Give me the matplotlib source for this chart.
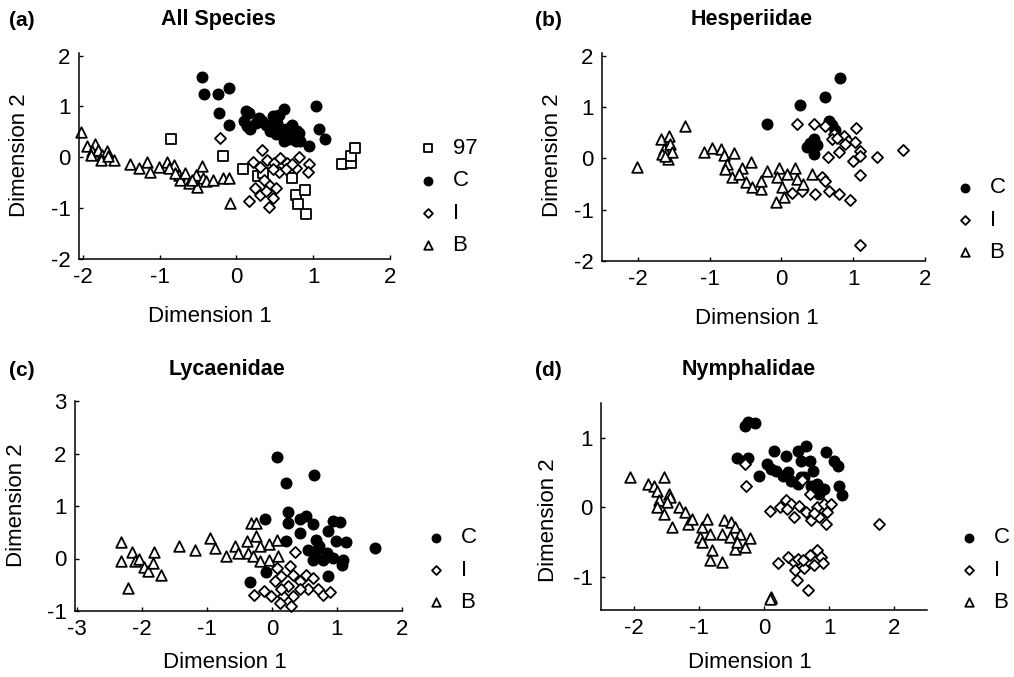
import matplotlib
matplotlib.use("Agg")
from matplotlib import pyplot as plt

plt.rcParams["font.family"] = ["Liberation Sans", "DejaVu Sans"]
plt.rcParams["font.size"] = 16
plt.rcParams["axes.unicode_minus"] = False

W, H = 1014, 677

# ---- (a) All Species ----
all_97_x = [-0.85, -0.17, 0.09, 0.28, 0.34, 0.72, 0.77, 0.89, 0.80, 0.91, 1.37, 1.49, 1.49, 1.55]
all_97_y = [0.36, 0.02, -0.24, -0.37, -0.31, -0.41, -0.75, -0.65, -0.91, -1.12, -0.13, -0.11, 0.03, 0.18]
all_c_x = [-0.45, -0.42, -0.24, -0.10, -0.23, -0.10, 0.12, 0.16, 0.10, 0.14, 0.18, 0.25, 0.29, 0.33,
           0.38, 0.47, 0.51, 0.55, 0.62, 0.49, 0.53, 0.55, 0.60, 0.64, 0.68, 0.73, 0.75, 0.79, 0.81,
           0.77, 0.68, 0.62, 0.51, 0.44, 0.83, 0.94, 1.04, 1.07, 1.16]
all_c_y = [1.57, 1.24, 1.25, 1.37, 0.88, 0.64, 0.91, 0.88, 0.71, 0.61, 0.55, 0.68, 0.78, 0.71,
           0.64, 0.81, 0.81, 0.84, 0.94, 0.64, 0.68, 0.58, 0.45, 0.55, 0.51, 0.64, 0.41, 0.51, 0.48,
           0.32, 0.35, 0.32, 0.45, 0.51, 0.32, 0.22, 1.01, 0.55, 0.35]
all_i_x = [-0.22, 0.33, 0.21, 0.31, 0.40, 0.49, 0.57, 0.66, 0.78, 0.81, 0.95, 0.93, 0.55, 0.42,
           0.51, 0.24, 0.31, 0.38, 0.47, 0.16, 0.43, 0.64, 0.73, 0.47, 0.36]
all_i_y = [0.37, 0.15, -0.09, -0.20, -0.05, -0.11, -0.01, -0.11, -0.21, 0.00, -0.13, -0.28, -0.28,
           -0.54, -0.61, -0.61, -0.74, -0.67, -0.80, -0.85, -0.98, -0.24, -0.14, -0.24, -0.44]
all_b_x = [-2.03, -1.95, -1.84, -1.88, -1.80, -1.90, -1.75, -1.69, -1.60, -1.77, -1.67, -1.38,
           -1.27, -1.16, -1.13, -1.01, -0.90, -0.81, -0.88, -0.75, -0.73, -0.67, -0.62, -0.53,
           -0.51, -0.45, -0.43, -0.39, -0.30, -0.17, -0.10, -0.09, -0.58, -0.80]
all_b_y = [0.50, 0.22, 0.26, 0.13, 0.15, 0.05, 0.05, 0.12, -0.06, -0.05, 0.02, -0.13,
           -0.21, -0.09, -0.28, -0.20, -0.09, -0.16, -0.21, -0.34, -0.44, -0.31, -0.51, -0.34,
           -0.59, -0.18, -0.41, -0.47, -0.44, -0.41, -0.41, -0.90, -0.44, -0.31]

# ---- (b) Hesperiidae ----
hes_c_x = [-0.20, 0.26, 0.60, 0.82, 0.66, 0.71, 0.75, 0.45, 0.36, 0.45, 0.50, 0.40]
hes_c_y = [0.67, 1.03, 1.20, 1.56, 0.73, 0.64, 0.55, 0.38, 0.21, 0.08, 0.25, 0.30]
hes_i_x = [0.22, 0.45, 0.60, 0.73, 0.70, 0.87, 0.93, 1.04, 1.03, 1.09, 1.10, 0.99, 1.33, 1.69,
           0.80, 0.65, 0.56, 0.61, 0.47, 0.66, 0.80, 0.95, 0.29, 0.15, 1.09, 1.09, 0.89, 0.77]
hes_i_y = [0.66, 0.66, 0.62, 0.47, 0.38, 0.44, 0.34, 0.59, 0.31, 0.15, 0.05, -0.05, 0.03, 0.17,
           0.12, 0.03, -0.36, -0.44, -0.69, -0.64, -0.69, -0.81, -0.64, -0.68, -0.33, -1.68, 0.28, 0.40]
hes_b_x = [-2.01, -1.68, -1.57, -1.64, -1.55, -1.66, -1.58, -1.52, -1.62, -1.34, -1.08, -0.97,
           -0.84, -0.80, -0.66, -0.76, -0.78, -0.69, -0.55, -0.59, -0.50, -0.43, -0.41, -0.29,
           -0.28, -0.20, -0.04, -0.06, 0.01, -0.08, 0.03, 0.08, 0.19, 0.22, 0.30, 0.42]
hes_b_y = [-0.16, 0.38, 0.44, 0.18, 0.28, 0.08, -0.01, 0.12, 0.05, 0.62, 0.12, 0.20,
           0.18, 0.07, 0.10, -0.11, -0.21, -0.37, -0.18, -0.31, -0.47, -0.08, -0.56, -0.60,
           -0.44, -0.24, -0.18, -0.37, -0.56, -0.86, -0.76, -0.31, -0.18, -0.40, -0.50, -0.31]

# ---- (c) Lycaenidae ----
lyc_c_x = [0.07, 0.22, 0.65, 0.25, -0.11, 0.25, 0.43, 0.53, 0.63, 0.43, 0.22, 0.68, 0.86, 0.94,
           1.04, 0.99, 1.14, 0.73, 0.55, 0.84, 0.78, 0.94, 1.07, 0.86, 0.63, 0.68, 1.58, -0.09,
           -0.34, 1.09]
lyc_c_y = [1.94, 1.43, 1.59, 0.89, 0.75, 0.68, 0.75, 0.81, 0.65, 0.49, 0.34, 0.36, 0.52, 0.71,
           0.69, 0.33, 0.31, 0.24, 0.17, 0.11, -0.02, 0.01, -0.13, -0.34, -0.02, 0.14, 0.20, -0.26,
           -0.45, -0.02]
lyc_i_x = [0.35, 0.07, 0.14, 0.27, 0.04, 0.25, 0.32, 0.43, 0.53, 0.63, 0.55, 0.43, 0.32, 0.17,
           0.12, 0.30, -0.01, -0.13, -0.27, 0.78, 0.89, 0.71, 0.14]
lyc_i_y = [0.13, -0.18, -0.34, -0.15, -0.43, -0.53, -0.31, -0.43, -0.31, -0.37, -0.59, -0.59,
           -0.72, -0.72, -0.85, -0.90, -0.72, -0.62, -0.69, -0.69, -0.64, -0.59, -0.59]
lyc_b_x = [-2.33, -2.32, -2.16, -2.11, -2.04, -1.97, -1.91, -1.83, -1.82, -1.71, -2.22, -1.43,
           -1.19, -0.95, -0.88, -0.70, -0.57, -0.52, -0.39, -0.37, -0.32, -0.24, -0.24, -0.19,
           -0.29, -0.04, 0.09, 0.07, -0.05, -0.19]
lyc_b_y = [0.31, -0.05, 0.12, -0.04, -0.01, -0.16, -0.24, -0.08, 0.12, -0.32, -0.56, 0.24,
           0.16, 0.39, 0.20, 0.04, 0.24, 0.11, 0.33, 0.11, 0.68, 0.68, 0.43, 0.24,
           0.04, 0.27, 0.04, 0.36, -0.02, -0.05]

# ---- (d) Nymphalidae ----
nym_c_x = [-0.29, -0.24, -0.14, -0.42, -0.24, -0.29, -0.07, 0.04, 0.16, 0.19, 0.34, 0.37, 0.52,
           0.65, 0.57, 0.70, 0.75, 0.62, 0.52, 0.42, 0.82, 0.92, 0.85, 0.95, 1.08, 1.13, 1.15,
           1.20, 0.72, 0.11, 0.29, 0.57]
nym_c_y = [1.17, 1.23, 1.21, 0.71, 0.71, 0.66, 0.45, 0.62, 0.81, 0.52, 0.74, 0.50, 0.81,
           0.88, 0.67, 0.67, 0.52, 0.43, 0.33, 0.38, 0.33, 0.26, 0.19, 0.79, 0.67, 0.60, 0.31,
           0.17, 0.31, 0.55, 0.45, 0.43]
nym_i_x = [-0.29, -0.28, 0.71, 0.58, 0.09, 0.24, 0.34, 0.42, 0.54, 0.36, 0.46, 0.64, 0.72, 0.82,
           0.85, 0.92, 0.97, 0.95, 1.03, 0.76, 1.77, 0.22, 0.37, 0.46, 0.52, 0.48, 0.62, 0.71,
           0.82, 0.87, 0.90, 0.77, 0.60, 0.50, 0.67]
nym_i_y = [0.62, 0.31, 0.19, 0.39, -0.05, 0.00, 0.10, 0.05, 0.02, -0.02, -0.14, -0.07, -0.19, 0.00,
           -0.14, 0.05, -0.07, -0.24, 0.05, -0.09, -0.24, -0.80, -0.71, -0.79, -0.74, -0.90, -0.88,
           -0.69, -0.62, -0.71, -0.81, -0.83, -0.76, -1.05, -1.19]
nym_b_x = [-2.05, -1.78, -1.69, -1.54, -1.64, -1.46, -1.44, -1.61, -1.49, -1.64, -1.54, -1.41,
           -1.31, -1.21, -1.16, -1.11, -0.95, -0.98, -0.95, -0.88, -0.83, -0.80, -0.83, -0.65,
           -0.65, -0.62, -0.50, -0.45, -0.52, -0.45, -0.37, -0.29, -0.22, -0.42, 0.10, 0.11, 0.09]
nym_b_y = [0.43, 0.33, 0.31, 0.43, 0.24, 0.19, 0.14, 0.10, 0.07, 0.00, -0.10, -0.29,
           0.00, -0.07, -0.24, -0.17, -0.29, -0.43, -0.50, -0.17, -0.38, -0.62, -0.76, -0.79,
           -0.38, -0.19, -0.21, -0.29, -0.43, -0.60, -0.38, -0.57, -0.45, -0.50, -1.31, -1.30, -1.32]

panels = [
    dict(rect=(79, 53, 390, 259), xlim=(-2.05, 2.0), ylim=(-2.0, 2.05),
         xticks=[-2, -1, 0, 1, 2], yticks=[-2, -1, 0, 1, 2],
         groups=[("97", all_97_x, all_97_y), ("C", all_c_x, all_c_y),
                 ("I", all_i_x, all_i_y), ("B", all_b_x, all_b_y)],
         letter=(22, 20, "(a)"), title=(218, 20, "All Species"),
         xlab=(210, 316), ylab=(20, 155), leg=(417, 197)),
    dict(rect=(602, 53, 925, 261), xlim=(-2.5, 2.0), ylim=(-2.0, 2.05),
         xticks=[-2, -1, 0, 1, 2], yticks=[-2, -1, 0, 1, 2],
         groups=[("C", hes_c_x, hes_c_y), ("I", hes_i_x, hes_i_y), ("B", hes_b_x, hes_b_y)],
         letter=(548, 20, "(b)"), title=(752, 20, "Hesperiidae"),
         xlab=(757, 318), ylab=(553, 155), leg=(954, 220)),
    dict(rect=(75, 401, 402, 611), xlim=(-3.03, 2.0), ylim=(-1.0, 3.0),
         xticks=[-3, -2, -1, 0, 1, 2], yticks=[-1, 0, 1, 2, 3],
         groups=[("C", lyc_c_x, lyc_c_y), ("I", lyc_i_x, lyc_i_y), ("B", lyc_b_x, lyc_b_y)],
         letter=(22, 370, "(c)"), title=(227, 370, "Lycaenidae"),
         xlab=(225, 662), ylab=(17, 505), leg=(425, 570)),
    dict(rect=(601, 403, 927, 610), xlim=(-2.5, 2.5), ylim=(-1.48, 1.5),
         xticks=[-2, -1, 0, 1, 2], yticks=[-1, 0, 1],
         groups=[("C", nym_c_x, nym_c_y), ("I", nym_i_x, nym_i_y), ("B", nym_b_x, nym_b_y)],
         letter=(548, 370, "(d)"), title=(749, 370, "Nymphalidae"),
         xlab=(750, 662), ylab=(549, 520), leg=(958, 570)),
]

styles = {
    "97": dict(marker="s", s=42, facecolors="white", edgecolors="black", linewidths=1.3),
    "C": dict(marker="o", s=58, facecolors="black", edgecolors="black", linewidths=1.0),
    "I": dict(marker="D", s=32, facecolors="white", edgecolors="black", linewidths=1.3),
    "B": dict(marker="^", s=58, facecolors="white", edgecolors="black", linewidths=1.3),
}

fig = plt.figure(figsize=(W / 100, H / 100), dpi=100)

for p in panels:
    l, t, r, b = p["rect"]
    ax = fig.add_axes([l / W, 1 - b / H, (r - l) / W, (b - t) / H])
    for label, xs, ys in p["groups"]:
        ax.scatter(xs, ys, label=label, clip_on=False, **styles[label])
    ax.set_xlim(*p["xlim"])
    ax.set_ylim(*p["ylim"])
    ax.set_xticks(p["xticks"])
    ax.set_yticks(p["yticks"])
    for side in ("top", "right"):
        ax.spines[side].set_visible(False)
    for side in ("left", "bottom"):
        ax.spines[side].set_linewidth(1.1)
    ax.tick_params(direction="in", length=3, width=1, labelsize=16, pad=6)

    lx, ly, txt = p["letter"]
    fig.text(lx / W, 1 - ly / H, txt, ha="center", va="center", fontsize=15, fontweight="bold")
    tx, ty, txt = p["title"]
    fig.text(tx / W, 1 - ty / H, txt, ha="center", va="center", fontsize=15.5, fontweight="bold")
    xx, xy = p["xlab"]
    fig.text(xx / W, 1 - xy / H, "Dimension 1", ha="center", va="center", fontsize=16)
    yx, yy = p["ylab"]
    fig.text(yx / W, 1 - yy / H, "Dimension 2", ha="center", va="center", fontsize=16, rotation=90)

    gx, gy = p["leg"]
    ax.legend(loc="center left", bbox_to_anchor=(gx / W, 1 - gy / H), bbox_transform=fig.transFigure,
              frameon=False, fontsize=16, markerscale=0.8, handlelength=1.0, handletextpad=0.6,
              borderpad=0, borderaxespad=0, labelspacing=0.5, scatterpoints=1)

fig.savefig("out.png", dpi=100)
